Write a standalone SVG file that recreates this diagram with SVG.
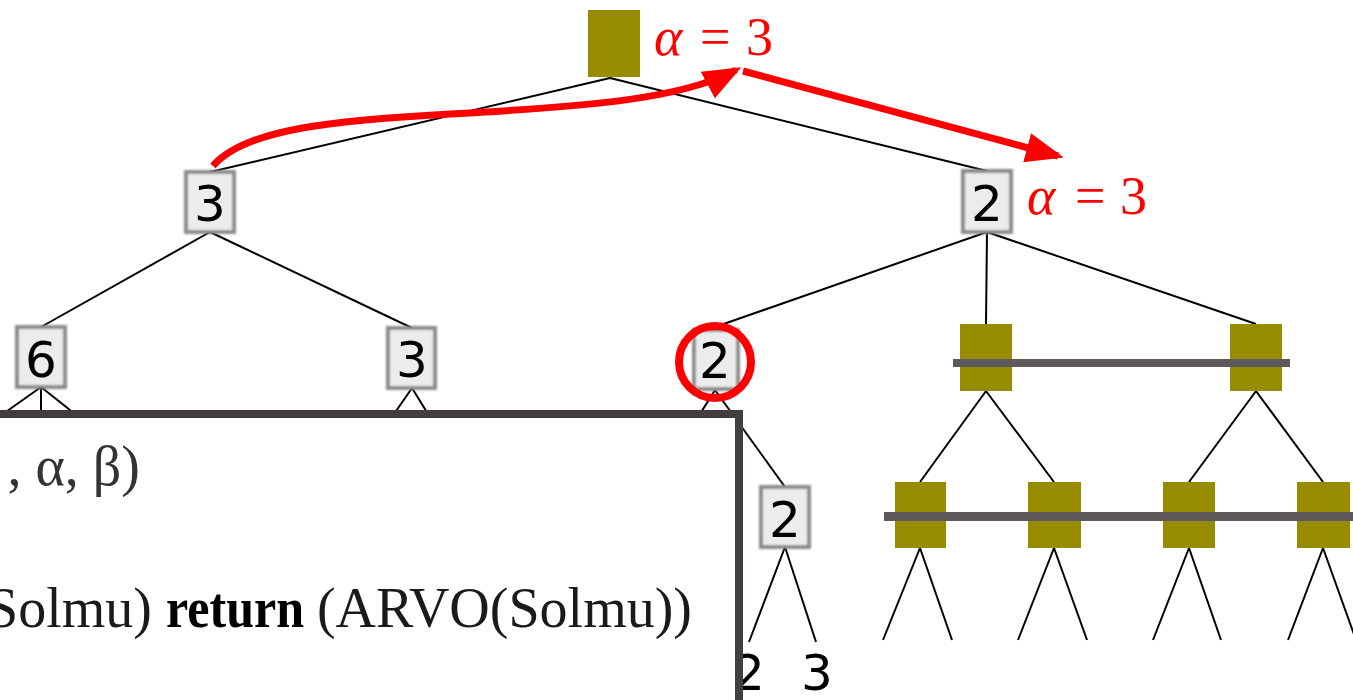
<svg xmlns="http://www.w3.org/2000/svg" width="1353" height="700" viewBox="0 0 1353 700">
<style>
.edge{stroke:#000;stroke-width:2;fill:none}
.box{fill:#ececec;stroke:#8a8a8a;stroke-width:4;filter:url(#blur)}
.olive{fill:#978b00;filter:url(#soft)}
.num{font-family:"DejaVu Sans",sans-serif;font-size:50px;fill:#000;text-anchor:middle}
.lab{font-family:"Liberation Serif",serif;font-size:54px;fill:#ff0000}
.bar{fill:#5e595b}
.arrow{stroke:#ff0000;stroke-width:7;fill:none;marker-end:url(#ah)}
.code{font-family:"Liberation Serif",serif;font-size:56px}
</style>
<defs>
<filter id="blur" x="-20%" y="-20%" width="140%" height="140%"><feGaussianBlur stdDeviation="1.3"/></filter>
<filter id="soft" x="-20%" y="-20%" width="140%" height="140%"><feGaussianBlur stdDeviation="0.6"/></filter>
<marker id="ah" markerUnits="userSpaceOnUse" markerWidth="38" markerHeight="30" viewBox="0 0 38 30" refX="32" refY="15" orient="auto"><path d="M0,0 L38,15 L0,30 z" fill="#ff0000"/></marker>
</defs>
<rect width="1353" height="700" fill="#fff"/>
<g id="connectors">
<line class="edge" x1="610" y1="78" x2="210" y2="172"/>
<line class="edge" x1="610" y1="78" x2="987" y2="171"/>
<line class="edge" x1="210" y1="232" x2="41" y2="327"/>
<line class="edge" x1="210" y1="232" x2="412" y2="328"/>
<line class="edge" x1="987" y1="232" x2="715" y2="327"/>
<line class="edge" x1="987" y1="232" x2="986" y2="324"/>
<line class="edge" x1="987" y1="232" x2="1256" y2="324"/>
<line class="edge" x1="41" y1="387" x2="3" y2="414"/>
<line class="edge" x1="41" y1="387" x2="41" y2="414"/>
<line class="edge" x1="41" y1="387" x2="75" y2="414"/>
<line class="edge" x1="412" y1="388" x2="394" y2="414"/>
<line class="edge" x1="412" y1="388" x2="428" y2="414"/>
<line class="edge" x1="715" y1="390" x2="700" y2="414"/>
<line class="edge" x1="715" y1="390" x2="785" y2="487"/>
<line class="edge" x1="785" y1="547" x2="749" y2="642"/>
<line class="edge" x1="785" y1="547" x2="816" y2="642"/>
<line class="edge" x1="986" y1="391" x2="920" y2="482"/>
<line class="edge" x1="986" y1="391" x2="1054" y2="482"/>
<line class="edge" x1="1256" y1="391" x2="1189" y2="482"/>
<line class="edge" x1="1256" y1="391" x2="1323" y2="482"/>
<line class="edge" x1="920" y1="548" x2="883" y2="640"/>
<line class="edge" x1="920" y1="548" x2="952" y2="640"/>
<line class="edge" x1="1054" y1="548" x2="1018" y2="640"/>
<line class="edge" x1="1054" y1="548" x2="1087" y2="640"/>
<line class="edge" x1="1189" y1="548" x2="1153" y2="640"/>
<line class="edge" x1="1189" y1="548" x2="1221" y2="640"/>
<line class="edge" x1="1323" y1="548" x2="1288" y2="640"/>
<line class="edge" x1="1323" y1="548" x2="1356" y2="640"/>
</g>
<g id="n-root"><rect class="olive" x="588" y="10" width="52" height="67"/></g>
<g id="lab-root"><text class="lab" y="55"><tspan x="654" font-style="italic">α</tspan><tspan x="700">=</tspan><tspan x="746">3</tspan></text></g>
<g id="n-l1a"><rect class="box" x="186" y="172" width="48" height="60"/><text class="num" x="210" y="221">3</text></g>
<g id="n-l1b"><rect class="box" x="963" y="171" width="48" height="61"/><text class="num" x="987" y="221">2</text></g>
<g id="lab-l1b"><text class="lab" y="214"><tspan x="1027" font-style="italic">α</tspan><tspan x="1075">=</tspan><tspan x="1120">3</tspan></text></g>
<g id="n-l2a"><rect class="box" x="17" y="327" width="48" height="60"/><text class="num" x="41" y="377">6</text></g>
<g id="n-l2b"><rect class="box" x="388" y="328" width="47" height="60"/><text class="num" x="412" y="377">3</text></g>
<g id="n-l2c"><rect class="box" x="694" y="330" width="44" height="59"/><text class="num" x="715" y="378">2</text><circle cx="715" cy="362" r="36" fill="none" stroke="#ff0000" stroke-width="8"/></g>
<g id="n-l2d"><rect class="olive" x="960" y="324" width="52" height="67"/></g>
<g id="n-l2e"><rect class="olive" x="1230" y="324" width="52" height="67"/></g>
<g id="n-l3a"><rect class="box" x="761" y="487" width="48" height="60"/><text class="num" x="785" y="537">2</text></g>
<g id="n-l3b"><rect class="olive" x="895" y="482" width="51" height="66"/></g>
<g id="n-l3c"><rect class="olive" x="1028" y="482" width="53" height="66"/></g>
<g id="n-l3d"><rect class="olive" x="1163" y="482" width="52" height="66"/></g>
<g id="n-l3e"><rect class="olive" x="1297" y="482" width="53" height="66"/></g>
<g id="cut-bars">
<rect class="bar" x="953" y="359" width="337" height="8"/>
<rect class="bar" x="884" y="512" width="469" height="9"/>
</g>
<g id="leaves">
<text class="num" x="749" y="690">2</text>
<text class="num" x="817" y="690">3</text>
</g>
<g id="arrows">
<path class="arrow" d="M213,166 C 245,128 340,120 450,114 C 580,107 680,100 736,70"/>
<path class="arrow" d="M743,71 L1058,156"/>
</g>
<g id="code-box">
<rect x="-10" y="414" width="749" height="300" fill="#fff" stroke="#433f40" stroke-width="8"/>
<text class="code" x="140" y="485" text-anchor="end" fill="#333">, α, β)</text>
<text class="code" x="152" y="627" text-anchor="end" fill="#1a1a1a">Solmu)</text>
<text class="code" x="166" y="627" font-weight="bold" fill="#000" textLength="138" lengthAdjust="spacingAndGlyphs">return</text>
<text class="code" x="692" y="627" text-anchor="end" fill="#1a1a1a">(ARVO(Solmu))</text>
</g>
</svg>
